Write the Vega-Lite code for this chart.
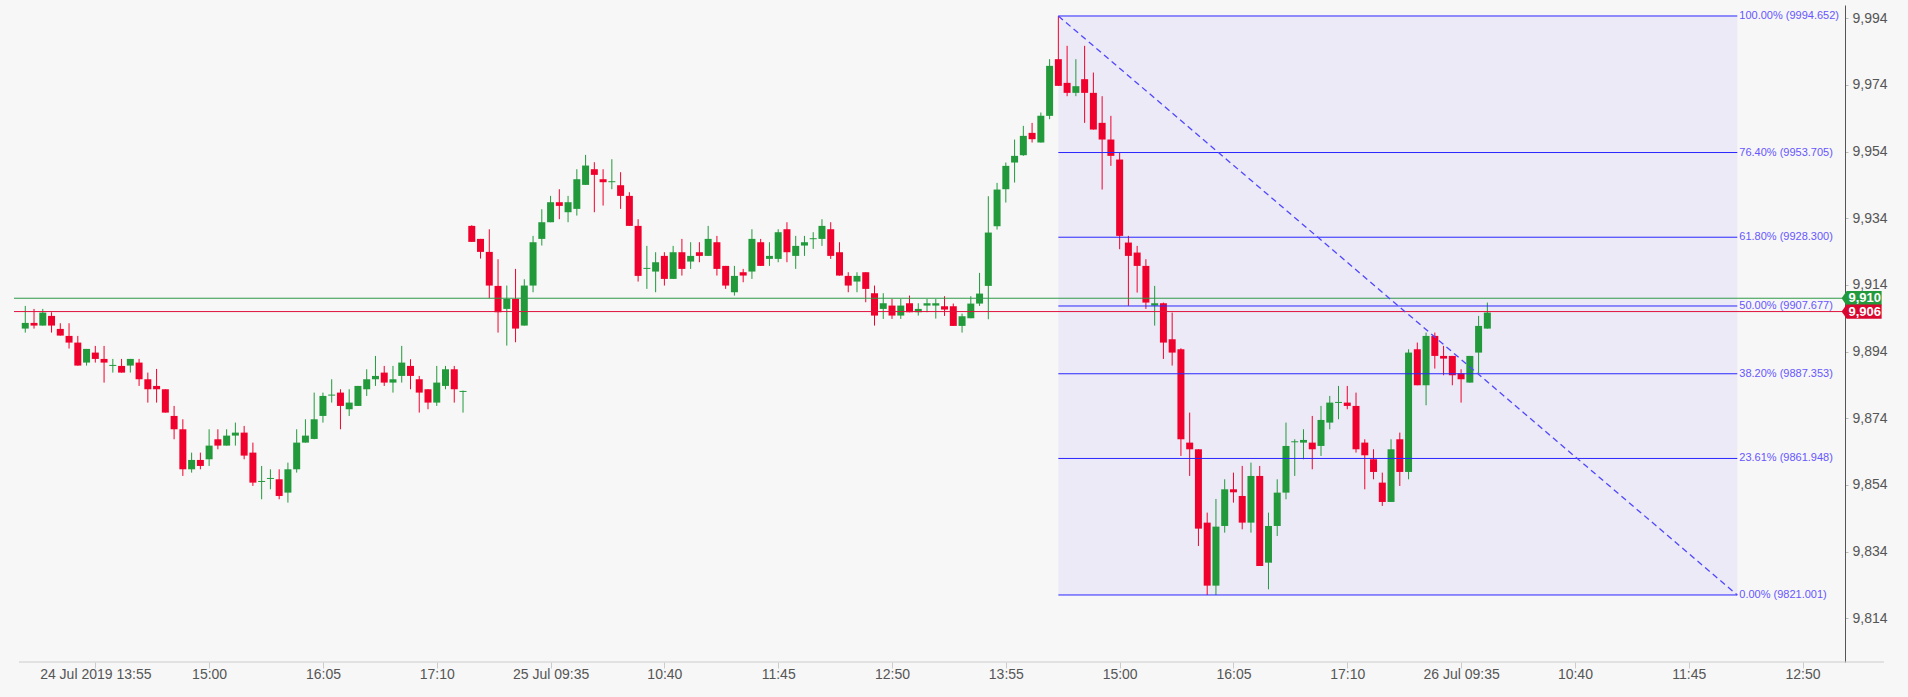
{
  "$schema": "https://vega.github.io/schema/vega-lite/v6.json",
  "width": 1831,
  "height": 657,
  "autosize": {"type": "none"},
  "padding": {"left": 14, "top": 5, "right": 63, "bottom": 35},
  "background": "#f7f7f7",
  "config": {"view": {"stroke": null}, "font": "Liberation Sans"},
  "datasets": {
    "candles": [
      {"bar":0,"open":9900.9,"high":9907.7,"low":9899.7,"close":9902.6},
      {"bar":1,"open":9902.6,"high":9906.8,"low":9900.9,"close":9901.8},
      {"bar":2,"open":9901.8,"high":9906.8,"low":9901.8,"close":9905.7},
      {"bar":3,"open":9904.7,"high":9905.8,"low":9899.7,"close":9901.8},
      {"bar":4,"open":9900.8,"high":9902.5,"low":9898.8,"close":9898.8},
      {"bar":5,"open":9898.7,"high":9902.5,"low":9894.9,"close":9896.7},
      {"bar":6,"open":9896.7,"high":9898.7,"low":9889.8,"close":9889.8},
      {"bar":7,"open":9890.7,"high":9894.8,"low":9889.8,"close":9894.8},
      {"bar":8,"open":9893.7,"high":9895.7,"low":9890.7,"close":9891.8},
      {"bar":9,"open":9891.8,"high":9895.7,"low":9884.7,"close":9890.7},
      {"bar":10,"open":9889.7,"high":9891.8,"low":9887.7,"close":9890.0},
      {"bar":11,"open":9889.7,"high":9891.8,"low":9887.7,"close":9887.7},
      {"bar":12,"open":9889.8,"high":9891.8,"low":9887.7,"close":9891.8},
      {"bar":13,"open":9890.7,"high":9891.8,"low":9883.7,"close":9885.7},
      {"bar":14,"open":9885.7,"high":9887.7,"low":9878.7,"close":9882.7},
      {"bar":15,"open":9883.7,"high":9888.8,"low":9878.7,"close":9882.7},
      {"bar":16,"open":9882.7,"high":9882.7,"low":9875.7,"close":9875.7},
      {"bar":17,"open":9874.7,"high":9877.7,"low":9867.7,"close":9870.7},
      {"bar":18,"open":9870.7,"high":9873.7,"low":9856.7,"close":9858.7},
      {"bar":19,"open":9858.7,"high":9863.7,"low":9857.7,"close":9861.5},
      {"bar":20,"open":9861.5,"high":9863.7,"low":9858.7,"close":9859.7},
      {"bar":21,"open":9861.7,"high":9870.7,"low":9859.7,"close":9865.8},
      {"bar":22,"open":9867.7,"high":9870.7,"low":9864.7,"close":9865.8},
      {"bar":23,"open":9865.8,"high":9870.7,"low":9865.8,"close":9868.8},
      {"bar":24,"open":9868.8,"high":9872.7,"low":9865.8,"close":9869.7},
      {"bar":25,"open":9869.7,"high":9871.7,"low":9861.7,"close":9862.8},
      {"bar":26,"open":9863.7,"high":9866.7,"low":9853.7,"close":9854.7},
      {"bar":27,"open":9854.9,"high":9859.7,"low":9849.7,"close":9855.2},
      {"bar":28,"open":9855.8,"high":9858.7,"low":9852.7,"close":9856.1},
      {"bar":29,"open":9855.7,"high":9858.7,"low":9849.7,"close":9850.7},
      {"bar":30,"open":9851.7,"high":9860.7,"low":9848.7,"close":9858.7},
      {"bar":31,"open":9858.7,"high":9870.7,"low":9857.7,"close":9866.7},
      {"bar":32,"open":9866.7,"high":9873.7,"low":9866.7,"close":9868.8},
      {"bar":33,"open":9867.8,"high":9881.7,"low":9867.7,"close":9873.7},
      {"bar":34,"open":9874.7,"high":9881.7,"low":9872.7,"close":9880.7},
      {"bar":35,"open":9880.8,"high":9885.7,"low":9878.7,"close":9881.1},
      {"bar":36,"open":9881.7,"high":9882.7,"low":9870.7,"close":9877.7},
      {"bar":37,"open":9876.7,"high":9882.7,"low":9874.7,"close":9878.7},
      {"bar":38,"open":9877.7,"high":9883.7,"low":9877.7,"close":9883.7},
      {"bar":39,"open":9882.7,"high":9888.7,"low":9880.7,"close":9885.7},
      {"bar":40,"open":9885.7,"high":9892.7,"low":9883.7,"close":9886.7},
      {"bar":41,"open":9887.7,"high":9889.7,"low":9883.7,"close":9884.7},
      {"bar":42,"open":9884.7,"high":9889.7,"low":9881.7,"close":9885.7},
      {"bar":43,"open":9886.7,"high":9895.7,"low":9884.7,"close":9890.7},
      {"bar":44,"open":9889.7,"high":9891.7,"low":9882.7,"close":9886.7},
      {"bar":45,"open":9885.7,"high":9886.7,"low":9875.7,"close":9881.7},
      {"bar":46,"open":9882.7,"high":9882.7,"low":9876.7,"close":9878.7},
      {"bar":47,"open":9878.7,"high":9889.7,"low":9877.7,"close":9884.7},
      {"bar":48,"open":9883.7,"high":9889.7,"low":9882.7,"close":9888.7},
      {"bar":49,"open":9888.7,"high":9889.7,"low":9878.7,"close":9882.7},
      {"bar":50,"open":9881.9,"high":9882.3,"low":9875.7,"close":9882.2},
      {"bar":51,"open":9931.7,"high":9931.9,"low":9926.9,"close":9926.9},
      {"bar":52,"open":9927.8,"high":9927.8,"low":9921.9,"close":9923.9},
      {"bar":53,"open":9923.9,"high":9930.7,"low":9910.0,"close":9913.8},
      {"bar":54,"open":9913.7,"high":9921.7,"low":9899.7,"close":9905.8},
      {"bar":55,"open":9906.8,"high":9913.8,"low":9895.8,"close":9909.8},
      {"bar":56,"open":9909.8,"high":9918.8,"low":9896.8,"close":9900.9},
      {"bar":57,"open":9901.8,"high":9915.7,"low":9901.8,"close":9913.8},
      {"bar":58,"open":9913.8,"high":9928.7,"low":9911.8,"close":9926.8},
      {"bar":59,"open":9927.8,"high":9936.7,"low":9925.8,"close":9932.8},
      {"bar":60,"open":9932.8,"high":9940.7,"low":9932.8,"close":9938.8},
      {"bar":61,"open":9938.8,"high":9942.7,"low":9933.7,"close":9937.7},
      {"bar":62,"open":9935.8,"high":9940.7,"low":9932.8,"close":9938.8},
      {"bar":63,"open":9936.8,"high":9948.7,"low":9934.8,"close":9945.7},
      {"bar":64,"open":9944.0,"high":9953.0,"low":9944.0,"close":9949.8},
      {"bar":65,"open":9948.7,"high":9950.8,"low":9935.8,"close":9947.0},
      {"bar":66,"open":9945.7,"high":9948.7,"low":9937.8,"close":9944.8},
      {"bar":67,"open":9944.8,"high":9951.7,"low":9942.7,"close":9945.1},
      {"bar":68,"open":9943.9,"high":9947.8,"low":9936.8,"close":9940.7},
      {"bar":69,"open":9940.7,"high":9941.8,"low":9931.7,"close":9931.7},
      {"bar":70,"open":9931.7,"high":9933.7,"low":9915.0,"close":9916.7},
      {"bar":71,"open":9918.8,"high":9925.7,"low":9912.8,"close":9919.1},
      {"bar":72,"open":9918.0,"high":9923.8,"low":9911.8,"close":9920.8},
      {"bar":73,"open":9922.7,"high":9923.8,"low":9913.8,"close":9915.8},
      {"bar":74,"open":9915.8,"high":9925.7,"low":9915.8,"close":9923.8},
      {"bar":75,"open":9923.8,"high":9927.8,"low":9916.8,"close":9918.8},
      {"bar":76,"open":9921.0,"high":9926.8,"low":9918.8,"close":9922.7},
      {"bar":77,"open":9923.8,"high":9926.8,"low":9920.8,"close":9922.7},
      {"bar":78,"open":9922.7,"high":9931.7,"low":9922.7,"close":9927.8},
      {"bar":79,"open":9926.8,"high":9928.7,"low":9916.8,"close":9918.8},
      {"bar":80,"open":9919.7,"high":9919.7,"low":9912.8,"close":9913.8},
      {"bar":81,"open":9911.8,"high":9919.7,"low":9910.8,"close":9916.7},
      {"bar":82,"open":9917.8,"high":9918.8,"low":9914.8,"close":9916.8},
      {"bar":83,"open":9918.0,"high":9930.7,"low":9915.8,"close":9927.8},
      {"bar":84,"open":9926.8,"high":9927.8,"low":9919.7,"close":9919.7},
      {"bar":85,"open":9921.8,"high":9926.8,"low":9919.7,"close":9922.7},
      {"bar":86,"open":9921.8,"high":9930.7,"low":9920.8,"close":9929.8},
      {"bar":87,"open":9930.7,"high":9932.8,"low":9920.8,"close":9923.8},
      {"bar":88,"open":9922.7,"high":9928.7,"low":9918.8,"close":9925.7},
      {"bar":89,"open":9925.8,"high":9928.7,"low":9922.7,"close":9926.8},
      {"bar":90,"open":9927.7,"high":9929.8,"low":9924.8,"close":9928.0},
      {"bar":91,"open":9927.8,"high":9933.7,"low":9925.7,"close":9931.7},
      {"bar":92,"open":9930.7,"high":9932.8,"low":9921.8,"close":9922.7},
      {"bar":93,"open":9923.8,"high":9926.8,"low":9916.8,"close":9916.8},
      {"bar":94,"open":9916.7,"high":9917.8,"low":9911.8,"close":9913.8},
      {"bar":95,"open":9915.0,"high":9917.8,"low":9911.8,"close":9916.7},
      {"bar":96,"open":9917.8,"high":9917.8,"low":9908.8,"close":9912.8},
      {"bar":97,"open":9911.5,"high":9913.8,"low":9901.8,"close":9904.8},
      {"bar":98,"open":9906.8,"high":9911.5,"low":9903.8,"close":9908.5},
      {"bar":99,"open":9907.8,"high":9909.8,"low":9903.8,"close":9904.8},
      {"bar":100,"open":9904.8,"high":9909.8,"low":9903.8,"close":9907.8},
      {"bar":101,"open":9908.5,"high":9910.8,"low":9905.8,"close":9905.8},
      {"bar":102,"open":9905.8,"high":9908.5,"low":9904.8,"close":9906.8},
      {"bar":103,"open":9907.8,"high":9909.8,"low":9905.8,"close":9908.5},
      {"bar":104,"open":9907.8,"high":9909.8,"low":9903.9,"close":9908.5},
      {"bar":105,"open":9907.6,"high":9910.6,"low":9904.7,"close":9906.6},
      {"bar":106,"open":9907.6,"high":9908.4,"low":9901.7,"close":9901.7},
      {"bar":107,"open":9901.7,"high":9905.4,"low":9899.7,"close":9904.6},
      {"bar":108,"open":9904.0,"high":9910.6,"low":9904.0,"close":9908.4},
      {"bar":109,"open":9908.4,"high":9917.6,"low":9907.7,"close":9911.4},
      {"bar":110,"open":9913.7,"high":9940.6,"low":9903.7,"close":9929.7},
      {"bar":111,"open":9931.6,"high":9944.6,"low":9930.6,"close":9942.6},
      {"bar":112,"open":9942.7,"high":9950.7,"low":9938.7,"close":9949.7},
      {"bar":113,"open":9950.7,"high":9957.6,"low":9944.7,"close":9952.7},
      {"bar":114,"open":9952.9,"high":9961.7,"low":9952.7,"close":9958.7},
      {"bar":115,"open":9959.6,"high":9962.6,"low":9956.7,"close":9957.7},
      {"bar":116,"open":9956.7,"high":9965.7,"low":9956.7,"close":9964.7},
      {"bar":117,"open":9964.7,"high":9981.7,"low":9963.7,"close":9979.7},
      {"bar":118,"open":9981.7,"high":9994.652,"low":9973.7,"close":9973.7},
      {"bar":119,"open":9974.6,"high":9985.7,"low":9970.6,"close":9971.6},
      {"bar":120,"open":9971.6,"high":9981.7,"low":9970.6,"close":9973.6},
      {"bar":121,"open":9975.7,"high":9985.7,"low":9962.6,"close":9971.6},
      {"bar":122,"open":9971.6,"high":9977.7,"low":9960.6,"close":9960.6},
      {"bar":123,"open":9962.6,"high":9970.6,"low":9942.6,"close":9957.6},
      {"bar":124,"open":9957.6,"high":9964.7,"low":9949.7,"close":9952.7},
      {"bar":125,"open":9951.6,"high":9953.6,"low":9924.7,"close":9928.7},
      {"bar":126,"open":9926.7,"high":9928.7,"low":9907.7,"close":9922.7},
      {"bar":127,"open":9923.7,"high":9925.7,"low":9911.7,"close":9919.7},
      {"bar":128,"open":9919.7,"high":9921.7,"low":9906.8,"close":9908.7},
      {"bar":129,"open":9907.8,"high":9913.7,"low":9901.8,"close":9908.5},
      {"bar":130,"open":9908.5,"high":9908.7,"low":9891.8,"close":9896.7},
      {"bar":131,"open":9897.7,"high":9905.7,"low":9889.8,"close":9893.7},
      {"bar":132,"open":9894.7,"high":9895.0,"low":9862.7,"close":9867.7},
      {"bar":133,"open":9866.7,"high":9875.7,"low":9856.7,"close":9864.7},
      {"bar":134,"open":9864.7,"high":9864.7,"low":9835.7,"close":9840.9},
      {"bar":135,"open":9842.7,"high":9845.7,"low":9821.0,"close":9823.8},
      {"bar":136,"open":9823.8,"high":9849.8,"low":9821.0,"close":9841.5},
      {"bar":137,"open":9841.7,"high":9855.7,"low":9839.7,"close":9852.7},
      {"bar":138,"open":9852.7,"high":9857.7,"low":9848.7,"close":9851.8},
      {"bar":139,"open":9850.7,"high":9859.7,"low":9840.7,"close":9842.7},
      {"bar":140,"open":9842.7,"high":9860.7,"low":9839.7,"close":9856.7},
      {"bar":141,"open":9856.7,"high":9859.7,"low":9829.7,"close":9829.7},
      {"bar":142,"open":9830.7,"high":9845.7,"low":9822.7,"close":9841.7},
      {"bar":143,"open":9841.7,"high":9855.7,"low":9838.7,"close":9851.7},
      {"bar":144,"open":9851.7,"high":9872.7,"low":9849.7,"close":9865.7},
      {"bar":145,"open":9866.8,"high":9867.7,"low":9856.7,"close":9867.1},
      {"bar":146,"open":9866.7,"high":9870.7,"low":9861.7,"close":9867.5},
      {"bar":147,"open":9866.7,"high":9874.7,"low":9858.7,"close":9864.7},
      {"bar":148,"open":9865.7,"high":9877.7,"low":9862.7,"close":9873.5},
      {"bar":149,"open":9872.7,"high":9880.7,"low":9870.7,"close":9878.7},
      {"bar":150,"open":9878.6,"high":9883.7,"low":9873.7,"close":9878.9},
      {"bar":151,"open":9878.7,"high":9883.7,"low":9876.7,"close":9877.7},
      {"bar":152,"open":9877.7,"high":9881.7,"low":9863.7,"close":9864.7},
      {"bar":153,"open":9866.7,"high":9867.7,"low":9852.7,"close":9862.9},
      {"bar":154,"open":9861.7,"high":9864.7,"low":9855.7,"close":9857.9},
      {"bar":155,"open":9854.7,"high":9857.7,"low":9847.7,"close":9848.9},
      {"bar":156,"open":9848.9,"high":9867.7,"low":9848.9,"close":9864.7},
      {"bar":157,"open":9867.7,"high":9869.7,"low":9853.7,"close":9857.9},
      {"bar":158,"open":9857.9,"high":9894.7,"low":9855.7,"close":9893.7},
      {"bar":159,"open":9894.7,"high":9896.7,"low":9883.9,"close":9883.9},
      {"bar":160,"open":9883.9,"high":9899.7,"low":9877.9,"close":9898.7},
      {"bar":161,"open":9898.7,"high":9899.7,"low":9888.9,"close":9892.7},
      {"bar":162,"open":9892.7,"high":9895.7,"low":9886.9,"close":9891.9},
      {"bar":163,"open":9892.7,"high":9892.7,"low":9883.9,"close":9886.9},
      {"bar":164,"open":9887.5,"high":9888.7,"low":9878.7,"close":9885.7},
      {"bar":165,"open":9884.7,"high":9892.7,"low":9884.7,"close":9892.7},
      {"bar":166,"open":9893.7,"high":9904.7,"low":9887.5,"close":9901.7},
      {"bar":167,"open":9900.9,"high":9908.7,"low":9900.9,"close":9905.7}
    ],
    "fib": [
      {"price":9994.652,"label":"100.00% (9994.652)"},
      {"price":9953.705,"label":"76.40% (9953.705)"},
      {"price":9928.300,"label":"61.80% (9928.300)"},
      {"price":9907.677,"label":"50.00% (9907.677)"},
      {"price":9887.353,"label":"38.20% (9887.353)"},
      {"price":9861.948,"label":"23.61% (9861.948)"},
      {"price":9821.001,"label":"0.00% (9821.001)"}
    ],
    "fibRange": [{"high":9994.652,"low":9821.001}],
    "prices": [
      {"side":"ask","price":9910},
      {"side":"bid","price":9906}
    ]
  },
  "data": {"name": "candles"},
  "layer": [
    {
      "data": {"name": "fibRange"},
      "mark": {"type": "rect", "color": "#eceaf6"},
      "encoding": {
        "x": {"datum": 118, "type": "quantitative", "scale": {"domain": [-0.716, 207.28], "nice": false, "zero": false},
          "axis": {"values": [8,21,34,47,60,73,86,99,112,125,138,151,164,177,190,203],
            "labelExpr": "['24 Jul 2019 13:55','15:00','16:05','17:10','25 Jul 09:35','10:40','11:45','12:50','13:55','15:00','16:05','17:10','26 Jul 09:35','10:40','11:45','12:50'][(datum.value-8)/13]",
            "title": null, "grid": false, "domain": false, "tickColor": "#cccccc", "tickSize": 6, "labelPadding": -1,
            "labelFontSize": 14, "labelColor": "#555555", "labelFont": "Liberation Sans", "labelFlush": false, "labelOverlap": false}},
        "x2": {"datum": 195.55},
        "y": {"field": "high", "type": "quantitative", "scale": {"domain": [9800.9, 9997.95], "nice": false, "zero": false},
          "axis": {"orient": "right", "values": [9814,9834,9854,9874,9894,9914,9934,9954,9974,9994], "format": ",.0f",
            "title": null, "grid": false, "domainColor": "#555555", "tickColor": "#bbbbbb", "tickSize": 3, "labelPadding": 4,
            "labelFontSize": 14, "labelColor": "#555555", "labelFont": "Liberation Sans", "labelFlush": false, "labelOverlap": false}},
        "y2": {"field": "low"}
      }
    },
    {
      "mark": {"type": "rule", "strokeWidth": 1},
      "encoding": {
        "x": {"field": "bar", "type": "quantitative"},
        "y": {"field": "low", "type": "quantitative"},
        "y2": {"field": "high"},
        "color": {"condition": {"test": "datum.close >= datum.open", "value": "#229a3c"}, "value": "#f0002c"}
      }
    },
    {
      "mark": {"type": "bar", "width": 7},
      "encoding": {
        "x": {"field": "bar", "type": "quantitative"},
        "y": {"field": "open", "type": "quantitative"},
        "y2": {"field": "close"},
        "color": {"condition": {"test": "datum.close >= datum.open", "value": "#229a3c"}, "value": "#f0002c"}
      }
    },
    {
      "data": {"name": "prices"},
      "mark": {"type": "rule", "strokeWidth": 1},
      "encoding": {
        "y": {"field": "price", "type": "quantitative"},
        "color": {"condition": {"test": "datum.side === 'ask'", "value": "#2e9a48"}, "value": "#e0103c"}
      }
    },
    {
      "data": {"name": "fib"},
      "mark": {"type": "rule", "strokeWidth": 1, "color": "#2a26ff"},
      "encoding": {
        "x": {"datum": 118},
        "x2": {"datum": 195.55},
        "y": {"field": "price", "type": "quantitative"}
      }
    },
    {
      "data": {"name": "fibRange"},
      "mark": {"type": "rule", "strokeWidth": 1.3, "color": "#4f47ff", "strokeDash": [6, 4]},
      "encoding": {
        "x": {"datum": 118},
        "x2": {"datum": 195.55},
        "y": {"field": "high", "type": "quantitative"},
        "y2": {"field": "low"}
      }
    },
    {
      "data": {"name": "fib"},
      "mark": {"type": "text", "align": "left", "baseline": "middle", "dx": 2, "fontSize": 11, "font": "Liberation Sans", "color": "#6656ff"},
      "encoding": {
        "x": {"datum": 195.55},
        "y": {"field": "price", "type": "quantitative"},
        "text": {"field": "label"}
      }
    },
    {
      "data": {"name": "prices"},
      "mark": {"type": "point", "filled": true, "opacity": 1, "size": 1600, "strokeWidth": 0,
        "shape": "M-1,0L-0.75,-0.36L1,-0.36L1,0.36L-0.75,0.36Z"},
      "encoding": {
        "x": {"datum": 209.75},
        "y": {"field": "price", "type": "quantitative"},
        "color": {"condition": {"test": "datum.side === 'ask'", "value": "#229a3c"}, "value": "#d9072f"}
      }
    },
    {
      "data": {"name": "prices"},
      "mark": {"type": "text", "align": "center", "baseline": "middle", "fontSize": 13, "fontWeight": "bold", "font": "Liberation Sans", "color": "#ffffff"},
      "encoding": {
        "x": {"datum": 210.1},
        "y": {"field": "price", "type": "quantitative"},
        "text": {"field": "price", "format": ",.0f"}
      }
    },
    {
      "data": {"name": "fibRange"},
      "mark": {"type": "rule", "strokeWidth": 1, "color": "#cccccc"},
      "encoding": {
        "x": {"datum": -0.716},
        "x2": {"datum": 212.3},
        "y": {"datum": 9800.9}
      }
    }
  ]
}
